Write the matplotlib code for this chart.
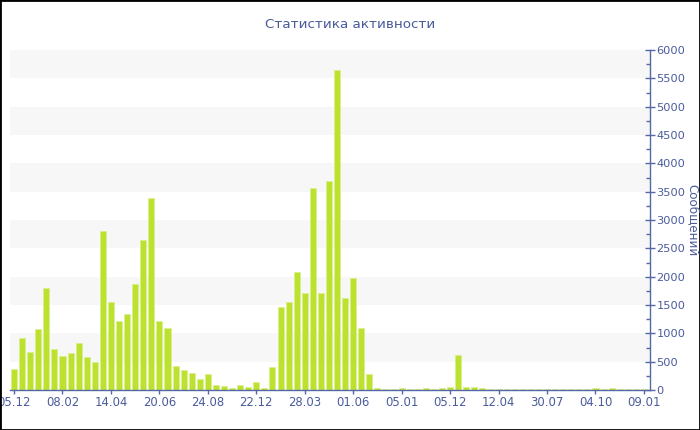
import numpy as np
import matplotlib.pyplot as plt
from matplotlib.patches import Rectangle
from matplotlib.ticker import MultipleLocator

TITLE = "Статистика активности"
Y_LABEL = "Сообщений"

# messages per period
values = [
    365, 912, 676, 1071, 1794, 724, 606, 659, 835, 588,
    500, 2800, 1547, 1224, 1341, 1865, 2642, 3395, 1212, 1088,
    424, 353, 294, 194, 277, 82, 76, 35, 82, 50,
    150, 35, 400, 1459, 1559, 2083, 1718, 3559, 1706, 3689,
    5648, 1618, 1971, 1094, 288, 30, 20, 20, 30, 20,
    20, 35, 20, 30, 59, 618, 47, 47, 35, 20,
    15, 15, 15, 15, 15, 15, 15, 15, 15, 15,
    15, 15, 35, 15, 40, 15, 15, 15, 15,
]
tick_labels = ["05.12", "08.02", "14.04", "20.06", "24.08", "22.12", "28.03",
               "01.06", "05.01", "05.12", "12.04", "30.07", "04.10", "09.01"]
TICK_STEP = 6

AXIS_C = "#5567a8"
TEXT_C = "#4a5b9c"
BAR_C = "#bde12f"

fig = plt.figure(figsize=(7, 4.3), dpi=100)
ax = fig.add_axes([10 / 700, 1 - 390 / 430, 640 / 700, 340 / 430])

x = np.arange(len(values))
ax.set_xlim(-0.5, len(values) - 1 + 0.75)
ax.set_ylim(0, 6000)

# alternating grey bands
for lo in range(500, 6000, 1000):
    ax.axhspan(lo, lo + 500, color="#f7f7f7", zorder=0, lw=0)

ax.bar(x, values, width=0.75, color=BAR_C, edgecolor="#d9ef8c", linewidth=0.5, zorder=2)

ax.yaxis.tick_right()
ax.yaxis.set_label_position("right")
ax.yaxis.set_major_locator(MultipleLocator(500))
ax.yaxis.set_minor_locator(MultipleLocator(250))
ax.tick_params(axis="y", which="major", direction="inout", length=7, width=1,
               color=AXIS_C, labelcolor=TEXT_C, labelsize=8.2, pad=1)
ax.tick_params(axis="y", which="minor", direction="in", length=3, width=1, color=AXIS_C)

ax.set_xticks(x[::TICK_STEP])
ax.set_xticklabels(tick_labels)
ax.tick_params(axis="x", direction="out", length=3, width=1, color=AXIS_C,
               labelcolor=TEXT_C, labelsize=8.4, pad=1.5)

for s in ("left", "top"):
    ax.spines[s].set_visible(False)
for s in ("right", "bottom"):
    ax.spines[s].set_color(AXIS_C)
    ax.spines[s].set_linewidth(1)

fig.text(0.5, 1 - 25 / 430, TITLE, ha="center", va="center", color=TEXT_C, fontsize=9.7)
fig.text(693 / 700, 1 - 220 / 430, Y_LABEL, ha="center", va="center", rotation=270,
         color=TEXT_C, fontsize=8.6)

# black frame round the picture
fig.patches.append(Rectangle((0, 0), 1, 1, transform=fig.transFigure, fill=False,
                             edgecolor="black", linewidth=2))

fig.savefig("out.png", dpi=100)
